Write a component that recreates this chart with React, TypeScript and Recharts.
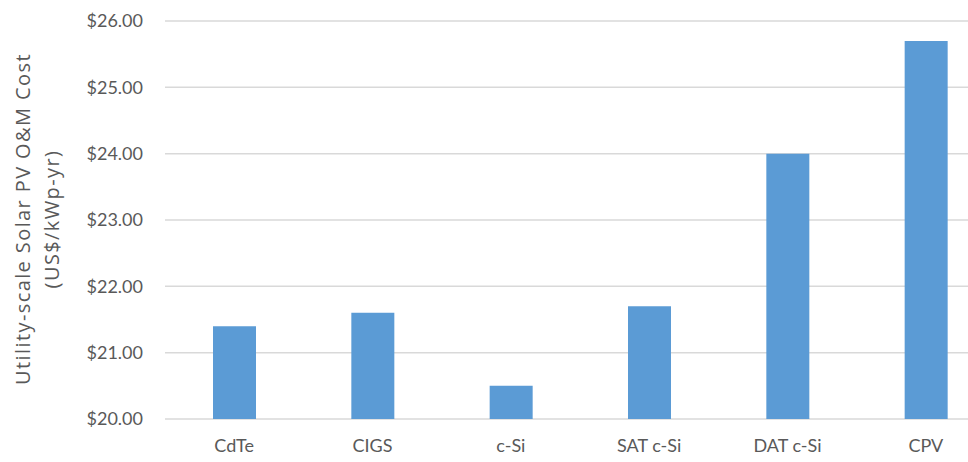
import React from "react";
import { BarChart, Bar, XAxis, YAxis, CartesianGrid } from "recharts";

const categories = ["CdTe", "CIGS", "c-Si", "SAT c-Si", "DAT c-Si", "CPV"];
const costValues = [21.4, 21.6, 20.5, 21.7, 24.0, 25.7];
const yTicks = [20, 21, 22, 23, 24, 25, 26];
const yTitleLines = ["Utility-scale Solar PV O&M Cost", "(US$/kWp-yr)"];

const data = categories.map((name, i) => ({ name, cost: costValues[i] }));

const FONT = "Lato, 'Open Sans', sans-serif";
const TITLE_FONT = "'Open Sans', Lato, sans-serif";
const TEXT_COLOR = "#595959";

const YTitle = () => (
  <g>
    {yTitleLines.map((line, i) => (
      <text
        key={i}
        x={0}
        y={0}
        transform={`translate(${25 + i * 29}, 219) rotate(-90)`}
        textAnchor="middle"
        dominantBaseline="middle"
        fontFamily={TITLE_FONT}
        fontSize={20}
        letterSpacing={1.4}
        fill={TEXT_COLOR}
      >
        {line}
      </text>
    ))}
  </g>
);

export default function App() {
  return (
    <div style={{ position: "absolute", left: 0, top: 0, width: 968, height: 462, overflow: "hidden", background: "#fff" }}>
      <BarChart
        width={1000}
        height={462}
        data={data}
        margin={{ top: 21, right: 5, bottom: 13, left: 0 }}
        barSize={43}
      >
        <CartesianGrid vertical={false} stroke="#d9d9d9" strokeWidth={1.5} />
        <XAxis
          dataKey="name"
          axisLine={false}
          tickLine={false}
          height={30}
          tickMargin={14}
          tick={{ fontFamily: FONT, fontSize: 18, fill: TEXT_COLOR }}
        />
        <YAxis
          width={165}
          domain={[20, 26]}
          ticks={yTicks}
          allowDataOverflow
          axisLine={false}
          tickLine={false}
          tickMargin={16}
          tickFormatter={(v: number) => `$${v.toFixed(2)}`}
          tick={{ fontFamily: FONT, fontSize: 18, fill: TEXT_COLOR }}
          label={<YTitle />}
        />
        <Bar dataKey="cost" fill="#5B9BD5" isAnimationActive={false} />
      </BarChart>
    </div>
  );
}
